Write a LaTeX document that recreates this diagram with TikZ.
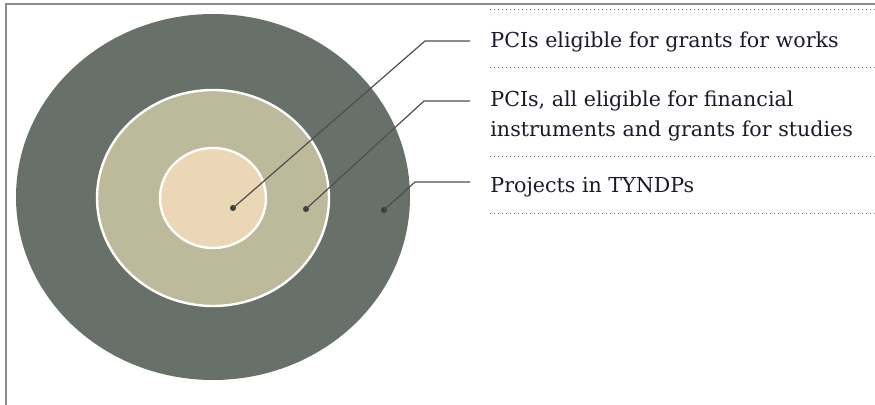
\documentclass[tikz,border=0pt]{standalone}
\usepackage{fontspec}
\setmainfont{DejaVu Serif}
\usepackage{xcolor}
\usetikzlibrary{positioning}

\definecolor{ringouter}{HTML}{687169}
\definecolor{ringmid}{HTML}{BDB99B}
\definecolor{ringinner}{HTML}{EBD6B5}
\definecolor{leadgray}{HTML}{4C504D}
\definecolor{pingray}{HTML}{3A3E3B}
\definecolor{inkdark}{HTML}{1A1A28}

\begin{document}
\begin{tikzpicture}[
        x=0.5pt,
        y=-0.5pt,
        font=\fontsize{10.3}{15}\selectfont,
        frame/.style={draw=black!45, line width=1pt},
        ring/.style={draw=white, line width=1.2pt},
        leader/.style={draw=leadgray, line width=0.6pt},
        pin/.style={circle, fill=pingray, inner sep=0pt, minimum size=3pt},
        lbl/.style={inkdark, inner sep=0pt, align=left},
        rule/.style={draw=black!55, line width=0.5pt, dash pattern=on 0.5pt off 1.5pt}
    ]
        \useasboundingbox (0,0) rectangle (875,405);

        % open frame, top and left only
        \draw[frame] (6,405) -- (6,4.5) -- (875,4.5);

        % the three nested sets
        \fill[ringouter] (213,197) ellipse [x radius=197, y radius=183];
        \filldraw[ring, fill=ringmid] (213,198) ellipse [x radius=116, y radius=108];
        \filldraw[ring, fill=ringinner] (213,198) ellipse [x radius=53, y radius=50];

        % pins
        \node[pin] (pinworks) at (233,208) {};
        \node[pin] (pinpci) at (306,209) {};
        \node[pin] (pintyndp) at (384,210) {};

        % labels (base of a two-line label is its last line)
        \node[lbl, anchor=base west] (works) at (490,48) {PCIs eligible for grants for works};
        \node[lbl, anchor=base west] (pci) at (490,137) {PCIs, all eligible for financial\\instruments and grants for studies};
        \node[lbl, anchor=base west] (tyndp) at (490,193) {Projects in TYNDPs};

        % leaders
        \coordinate (bendworks) at (425,41);
        \coordinate (bendpci) at (424,101);
        \coordinate (bendtyndp) at (415,182);
        \draw[leader] (pinworks.center) -- (bendworks) -- (bendworks -| 470,0);
        \draw[leader] (pinpci.center) -- (bendpci) -- (bendpci -| 470,0);
        \draw[leader] (pintyndp.center) -- (bendtyndp) -- (bendtyndp -| 470,0);

        % dotted rules between the labels
        \foreach \y in {10,68,157,214} {
            \draw[rule] (490,\y) -- (875,\y);
        }
    \end{tikzpicture}
\end{document}
